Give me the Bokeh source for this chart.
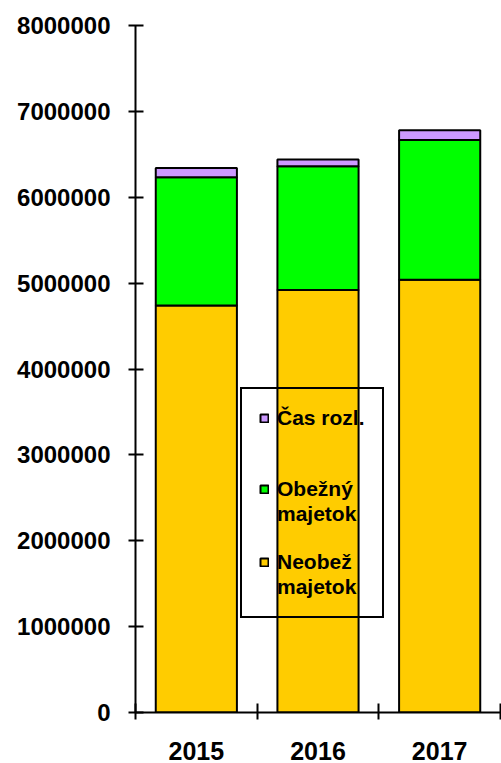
from bokeh.plotting import figure
from bokeh.models import (Range1d, FixedTicker, NumeralTickFormatter, Legend,
                          LegendItem, ColumnDataSource)
from bokeh.embed import file_html
from bokeh.resources import INLINE

years = ["2015", "2016", "2017"]
neobez = [4738000, 4920000, 5040000]
obezny = [1494000, 1440000, 1627000]
cas = [108000, 80000, 113000]
series = ["neobez", "obezny", "cas"]
# legend rows (top to bottom); None = text continuation row without a marker
legend_rows = [("Čas rozl.", 2), (" ", None), (" ", None),
               ("Obežný", 1), ("majetok", None), (" ", None),
               ("Neobež", 0), ("majetok", None)]
colors = ["#FFCC00", "#00FF00", "#CC99FF"]
y_ticks = list(range(0, 8000001, 1000000))

xs = [i + 0.5 for i in range(len(years))]
source = ColumnDataSource(dict(x=xs, neobez=neobez, obezny=obezny, cas=cas))

FONT = "Liberation Sans"

p = figure(width=501, height=763, output_backend="svg", toolbar_location=None,
           x_range=Range1d(0, len(years)), y_range=Range1d(0, 8000000),
           min_border_left=135, min_border_right=1, min_border_top=25,
           min_border_bottom=51)
p.outline_line_color = None
p.xgrid.visible = False
p.ygrid.visible = False

rs = p.vbar_stack(series, x="x", width=0.667, source=source, color=colors,
                  line_color="black", line_width=2)

# y axis
ya = p.yaxis[0]
ya.ticker = FixedTicker(ticks=y_ticks, minor_ticks=[])
ya.formatter = NumeralTickFormatter(format="0")
ya.axis_line_width = 2
ya.major_tick_line_width = 2
ya.major_tick_in = 8
ya.major_tick_out = 7
ya.minor_tick_line_color = None
ya.major_label_standoff = 18
ya.major_label_text_font = FONT
ya.major_label_text_font_style = "bold"
ya.major_label_text_font_size = "24px"
ya.major_label_text_color = "black"

# x axis
xa = p.xaxis[0]
xa.ticker = FixedTicker(ticks=xs, minor_ticks=list(range(len(years) + 1)))
xa.major_label_overrides = {x: y for x, y in zip(xs, years)}
xa.major_tick_line_color = None
xa.minor_tick_line_width = 2
xa.minor_tick_in = 9
xa.minor_tick_out = 7
xa.axis_line_width = 2
xa.major_label_standoff = 22
xa.major_label_text_font = FONT
xa.major_label_text_font_style = "bold"
xa.major_label_text_font_size = "25px"
xa.major_label_text_color = "black"

items = [LegendItem(label=txt, renderers=([rs[k]] if k is not None else []))
         for txt, k in legend_rows]
legend = Legend(items=items, location=(105, 94), padding=17, margin=0,
                glyph_width=10, glyph_height=10, label_standoff=8,
                label_height=22, spacing=1,
                label_text_font=FONT, label_text_font_style="bold",
                label_text_font_size="21px", label_text_color="black",
                background_fill_alpha=0, border_line_color="black",
                border_line_width=2, border_line_alpha=1)
p.add_layout(legend, "center")

open("out.html", "w").write(file_html(p, INLINE))
